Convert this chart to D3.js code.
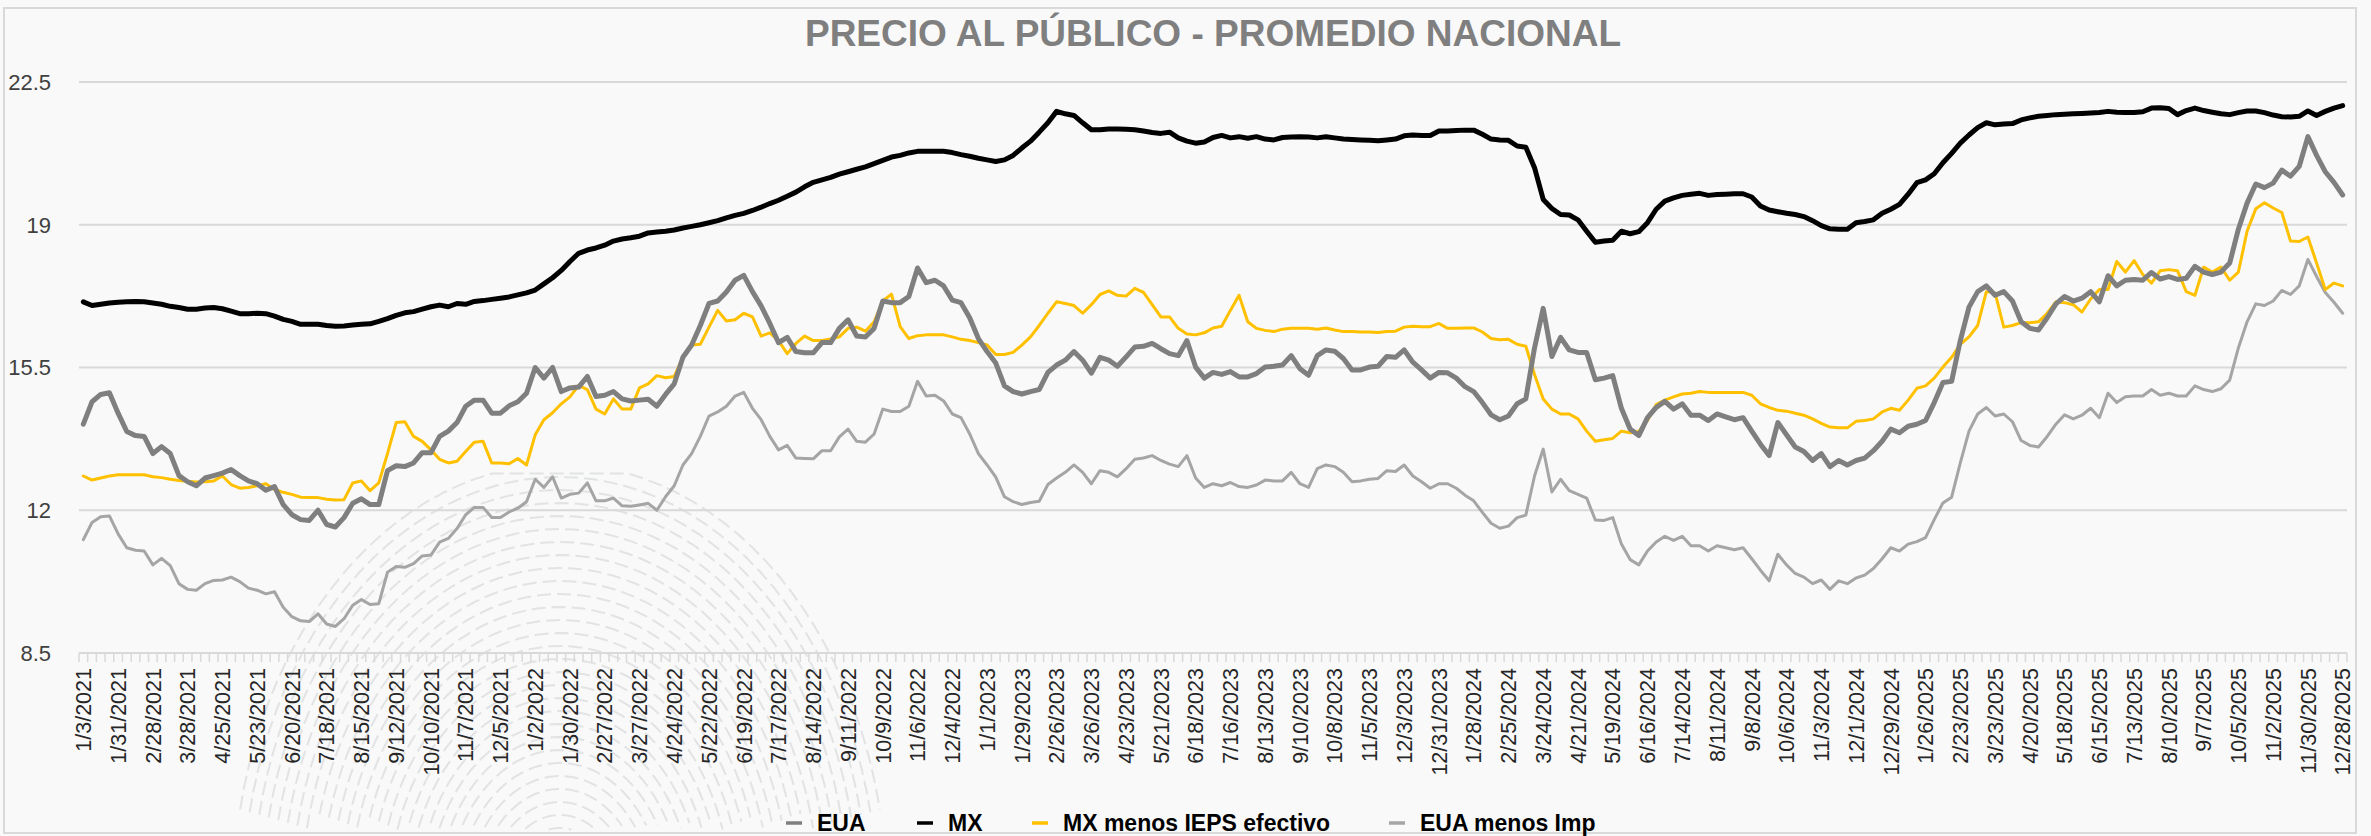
<!DOCTYPE html>
<html>
<head>
<meta charset="utf-8">
<script src="https://cdn.jsdelivr.net/npm/d3@7"></script>
<style>
  body { margin: 0; background: #f9f9f9; }
  text { font-family: "Liberation Sans", Arial, sans-serif; }
</style>
</head>
<body>
<div id="chart"></div>
<script>
// weekly series, first week 1/3/2021, last week 12/28/2025
const eua = [
  14.11, 14.66, 14.84, 14.88, 14.38, 13.93, 13.83, 13.81, 13.39, 13.56, 13.39, 12.85, 12.7, 12.6, 12.79,
  12.85, 12.91, 13.0, 12.85, 12.72, 12.65, 12.49, 12.58, 12.14, 11.89, 11.77, 11.75, 12.0, 11.65, 11.59,
  11.82, 12.17, 12.28, 12.14, 12.14, 12.97, 13.09, 13.07, 13.16, 13.41, 13.41, 13.81, 13.94, 14.15,
  14.55, 14.7, 14.7, 14.38, 14.38, 14.56, 14.66, 14.87, 15.5, 15.24, 15.5, 14.91, 15.0, 15.02, 15.28,
  14.79, 14.82, 14.91, 14.73, 14.68, 14.7, 14.72, 14.55, 14.84, 15.1, 15.75, 16.05, 16.53, 17.07, 17.13,
  17.35, 17.64, 17.76, 17.36, 17.01, 16.58, 16.11, 16.24, 15.89, 15.86, 15.86, 16.11, 16.11,
  16.46, 16.67, 16.27, 16.25, 16.46, 17.13, 17.09, 17.09, 17.24, 17.94, 17.58, 17.64, 17.5, 17.15, 17.09,
  16.72, 16.21, 15.89, 15.61, 15.05, 14.91, 14.85, 14.91, 14.96, 15.38, 15.56, 15.68, 15.89, 15.68, 15.36,
  15.75, 15.68, 15.53, 15.76, 16.0, 16.02, 16.09, 15.96, 15.84, 15.79, 16.16, 15.51, 15.24, 15.38,
  15.33, 15.4, 15.27, 15.27, 15.35, 15.51, 15.53, 15.56, 15.79, 15.47, 15.31, 15.79, 15.93, 15.9, 15.72,
  15.44, 15.44, 15.51, 15.53, 15.77, 15.75, 15.93, 15.63, 15.44, 15.24, 15.38, 15.37, 15.24, 15.03, 14.91,
  14.64, 14.34, 14.22, 14.31, 14.61, 14.73, 15.98, 16.95, 15.77, 16.24, 15.93, 15.87, 15.87, 15.2,
  15.24, 15.3, 14.5, 13.99, 13.83, 14.27, 14.52, 14.67, 14.48, 14.61, 14.33, 14.33, 14.2, 14.36, 14.29,
  14.22, 14.27, 13.94, 13.62, 13.34, 14.15, 13.85, 13.55, 13.44, 13.22, 13.39, 13.07, 13.22, 13.11, 13.22,
  13.28, 13.46, 13.69, 13.99, 13.9, 14.06, 14.11, 14.2, 14.64, 15.13, 15.16, 16.16, 16.98,
  17.36, 17.5, 17.27, 17.36, 17.13, 16.62, 16.46, 16.42, 16.72, 17.06, 17.24, 17.13, 17.2, 17.36, 17.11,
  17.75, 17.5, 17.64, 17.66, 17.64, 17.83, 17.67, 17.73, 17.66, 17.69, 17.98, 17.84, 17.78, 17.84, 18.06,
  18.89, 19.53, 20.0, 19.91, 20.02, 20.34, 20.19, 20.43, 21.16, 20.7, 20.3, 20.04, 19.73
]

const mx = [
  17.11, 17.02, 17.05, 17.08, 17.1, 17.11, 17.12, 17.11, 17.08, 17.05, 17.0, 16.97, 16.93, 16.93, 16.96,
  16.97, 16.94, 16.88, 16.82, 16.82, 16.83, 16.82, 16.76, 16.68, 16.63, 16.56, 16.56, 16.56, 16.53, 16.51,
  16.52, 16.54, 16.56, 16.57, 16.63, 16.7, 16.78, 16.84, 16.87, 16.93, 16.99, 17.03, 16.99, 17.07,
  17.05, 17.12, 17.14, 17.17, 17.2, 17.23, 17.28, 17.33, 17.4, 17.55, 17.7, 17.88, 18.1, 18.3, 18.38,
  18.43, 18.5, 18.6, 18.65, 18.68, 18.72, 18.8, 18.82, 18.84, 18.87, 18.92, 18.96, 19.0, 19.05, 19.1,
  19.17, 19.23, 19.28, 19.35, 19.43, 19.52, 19.6, 19.7, 19.8, 19.93, 20.04, 20.1, 20.16,
  20.24, 20.3, 20.36, 20.42, 20.5, 20.58, 20.66, 20.7, 20.76, 20.8, 20.8, 20.8, 20.8, 20.77, 20.72,
  20.68, 20.63, 20.59, 20.55, 20.59, 20.7, 20.88, 21.05, 21.27, 21.5, 21.78, 21.72, 21.68, 21.5, 21.33,
  21.33, 21.35, 21.35, 21.34, 21.33, 21.3, 21.26, 21.24, 21.27, 21.13, 21.05, 21.0, 21.03, 21.14,
  21.19, 21.13, 21.16, 21.12, 21.16, 21.1, 21.08, 21.14, 21.15, 21.16, 21.15, 21.13, 21.16, 21.13, 21.1,
  21.09, 21.08, 21.07, 21.06, 21.08, 21.1, 21.18, 21.2, 21.19, 21.19, 21.3, 21.3, 21.31, 21.32, 21.32,
  21.22, 21.1, 21.08, 21.07, 20.93, 20.9, 20.4, 19.62, 19.4, 19.25, 19.24, 19.12, 18.84, 18.57,
  18.6, 18.62, 18.84, 18.78, 18.83, 19.05, 19.38, 19.58, 19.66, 19.72, 19.75, 19.77, 19.72, 19.74, 19.75,
  19.76, 19.76, 19.68, 19.46, 19.36, 19.32, 19.28, 19.25, 19.2, 19.1, 18.98, 18.9, 18.89, 18.89, 19.05,
  19.08, 19.12, 19.28, 19.38, 19.5, 19.75, 20.03, 20.1, 20.25, 20.52, 20.75, 21.0, 21.2,
  21.38, 21.5, 21.45, 21.47, 21.48, 21.57, 21.62, 21.66, 21.68, 21.7, 21.71, 21.72, 21.73, 21.74, 21.75,
  21.78, 21.76, 21.75, 21.75, 21.77, 21.86, 21.87, 21.85, 21.7, 21.8, 21.86, 21.8, 21.76, 21.72, 21.7,
  21.75, 21.79, 21.79, 21.75, 21.69, 21.65, 21.64, 21.66, 21.79, 21.68, 21.78, 21.86, 21.92
]

const mxIeps = [
  12.84, 12.74, 12.79, 12.84, 12.87, 12.87, 12.87, 12.87, 12.82, 12.8, 12.76, 12.73, 12.71, 12.69, 12.7,
  12.72, 12.84, 12.63, 12.54, 12.56, 12.6, 12.65, 12.51, 12.44, 12.39, 12.32, 12.31, 12.31, 12.27, 12.25,
  12.26, 12.67, 12.72, 12.48, 12.67, 13.39, 14.15, 14.17, 13.81, 13.69, 13.48, 13.25, 13.16, 13.2,
  13.44, 13.67, 13.69, 13.16, 13.16, 13.14, 13.27, 13.11, 13.85, 14.22, 14.39, 14.61, 14.78, 15.06, 14.96,
  14.48, 14.36, 14.73, 14.48, 14.48, 15.0, 15.1, 15.3, 15.25, 15.28, 15.75, 16.05, 16.07, 16.49, 16.9,
  16.64, 16.67, 16.83, 16.74, 16.27, 16.35, 16.16, 15.84, 16.09, 16.27, 16.16, 16.16, 16.2,
  16.25, 16.46, 16.49, 16.39, 16.62, 17.13, 17.3, 16.5, 16.21, 16.28, 16.3, 16.3, 16.3, 16.25, 16.19,
  16.16, 16.11, 16.05, 15.82, 15.82, 15.87, 16.05, 16.25, 16.53, 16.83, 17.11, 17.07, 17.02, 16.83, 17.04,
  17.29, 17.38, 17.27, 17.25, 17.44, 17.34, 17.04, 16.74, 16.74, 16.46, 16.32, 16.3, 16.35, 16.47,
  16.51, 16.9, 17.27, 16.62, 16.46, 16.41, 16.38, 16.44, 16.46, 16.46, 16.46, 16.44, 16.47, 16.42, 16.38,
  16.38, 16.37, 16.37, 16.36, 16.38, 16.39, 16.49, 16.51, 16.5, 16.5, 16.58, 16.46, 16.46, 16.47, 16.47,
  16.37, 16.21, 16.18, 16.19, 16.07, 16.02, 15.33, 14.73, 14.48, 14.36, 14.36, 14.24, 13.94, 13.69,
  13.73, 13.76, 13.94, 13.9, 13.93, 14.2, 14.59, 14.7, 14.78, 14.85, 14.87, 14.91, 14.89, 14.89, 14.89,
  14.89, 14.89, 14.82, 14.61, 14.52, 14.45, 14.43, 14.38, 14.33, 14.24, 14.13, 14.04, 14.02, 14.02, 14.18,
  14.2, 14.24, 14.41, 14.5, 14.45, 14.7, 14.99, 15.05, 15.24, 15.51, 15.75, 16.07, 16.25,
  16.53, 17.36, 17.33, 16.49, 16.53, 16.6, 16.6, 16.62, 16.83, 17.11, 17.09, 17.04, 16.86, 17.18, 17.41,
  17.41, 18.1, 17.84, 18.12, 17.78, 17.57, 17.87, 17.9, 17.87, 17.36, 17.27, 17.96, 17.84, 17.96, 17.64,
  17.84, 18.84, 19.39, 19.54, 19.41, 19.3, 18.6, 18.59, 18.7, 18.06, 17.41, 17.57, 17.5
]

const euaImp = [
  11.28, 11.7, 11.84, 11.86, 11.42, 11.08, 11.02, 11.0, 10.66, 10.82, 10.64, 10.2, 10.06, 10.04, 10.2,
  10.28, 10.29, 10.36, 10.25, 10.09, 10.04, 9.95, 10.0, 9.62, 9.39, 9.29, 9.27, 9.46, 9.21, 9.15,
  9.34, 9.67, 9.81, 9.69, 9.71, 10.48, 10.62, 10.6, 10.69, 10.88, 10.9, 11.22, 11.31, 11.55,
  11.89, 12.07, 12.07, 11.82, 11.82, 11.96, 12.05, 12.21, 12.76, 12.56, 12.82, 12.3, 12.39, 12.42, 12.67,
  12.23, 12.23, 12.3, 12.11, 12.1, 12.13, 12.17, 12.0, 12.33, 12.6, 13.11, 13.39, 13.81, 14.31, 14.41,
  14.55, 14.8, 14.89, 14.5, 14.22, 13.81, 13.48, 13.59, 13.28, 13.27, 13.26, 13.46, 13.46,
  13.8, 13.99, 13.69, 13.67, 13.87, 14.48, 14.42, 14.42, 14.55, 15.16, 14.8, 14.82, 14.68, 14.36, 14.27,
  13.87, 13.39, 13.11, 12.81, 12.33, 12.21, 12.14, 12.19, 12.22, 12.63, 12.79, 12.93, 13.11, 12.93, 12.65,
  12.97, 12.93, 12.82, 13.02, 13.25, 13.28, 13.34, 13.22, 13.13, 13.07, 13.34, 12.79, 12.56, 12.65,
  12.6, 12.68, 12.58, 12.56, 12.62, 12.74, 12.72, 12.72, 12.93, 12.65, 12.56, 13.02, 13.11, 13.07, 12.93,
  12.7, 12.72, 12.76, 12.78, 12.97, 12.95, 13.11, 12.84, 12.7, 12.54, 12.65, 12.65, 12.54, 12.37, 12.23,
  11.95, 11.68, 11.56, 11.61, 11.82, 11.88, 12.84, 13.5, 12.45, 12.76, 12.48, 12.39, 12.3, 11.76,
  11.75, 11.82, 11.17, 10.79, 10.66, 11.0, 11.22, 11.36, 11.26, 11.36, 11.13, 11.13, 11.0, 11.13, 11.08,
  11.03, 11.08, 10.81, 10.53, 10.27, 10.92, 10.66, 10.45, 10.36, 10.2, 10.29, 10.06, 10.27, 10.2, 10.34,
  10.41, 10.57, 10.81, 11.08, 11.0, 11.17, 11.23, 11.33, 11.77, 12.18, 12.32, 13.16, 13.94,
  14.36, 14.52, 14.31, 14.36, 14.17, 13.71, 13.59, 13.55, 13.81, 14.11, 14.34, 14.24, 14.33, 14.5, 14.27,
  14.87, 14.64, 14.78, 14.8, 14.8, 14.96, 14.82, 14.87, 14.8, 14.8, 15.05, 14.96, 14.91, 14.98, 15.19,
  15.98, 16.62, 17.06, 17.02, 17.13, 17.39, 17.29, 17.5, 18.15, 17.73, 17.34, 17.1, 16.83
]

const yTicks = [8.5, 12, 15.5, 19, 22.5]

// weekly categories (Sundays)
const weeks = d3.timeWeek.range(new Date(2021, 0, 3), new Date(2025, 11, 29))
const fmt = d3.timeFormat('%-m/%-d/%Y')
const labels = weeks.map(fmt)

const series = [
  { name: 'EUA menos Imp', values: euaImp, color: '#a5a5a5', width: 3 },
  { name: 'MX menos IEPS efectivo', values: mxIeps, color: '#ffc000', width: 3 },
  { name: 'EUA', values: eua, color: '#7f7f7f', width: 5 },
  { name: 'MX', values: mx, color: '#000000', width: 5 }
]
const legendOrder = ['EUA', 'MX', 'MX menos IEPS efectivo', 'EUA menos Imp']

const W = 2371, H = 836
const plot = { left: 79, right: 2347, top: 82, bottom: 653 }

const svg = d3.select('#chart').append('svg')
  .attr('width', W)
  .attr('height', H)

svg.append('rect')
  .attr('x', 4).attr('y', 8)
  .attr('width', 2352).attr('height', 825)
  .attr('fill', '#f9f9f9')
  .attr('stroke', '#d9d9d9')
  .attr('stroke-width', 2)

// faint fingerprint-like background decoration, bottom left
const rings = d3.range(20, 440, 13)
const deco = svg.append('g')
deco.selectAll('path')
  .data(rings)
  .enter().append('path')
  .attr('fill', 'none')
  .attr('stroke', '#c4c8ca')
  .attr('stroke-opacity', 0.45)
  .attr('stroke-width', 2)
  .attr('stroke-dasharray', '14 6')
  .attr('d', d => {
    // upper half of an ellipse, cut at the bottom border
    const cx = 560, cy = 900, rx = d * 0.75, ry = d
    const pts = d3.range(0, 181, 3).map(a => {
      const t = a * Math.PI / 180
      return [cx - rx * Math.cos(t), Math.min(830, cy - ry * Math.sin(t))]
    }).filter(p => p[1] < 830 && p[1] > 470)
    return pts.length > 1 ? d3.line()(pts) : null
  })

const x = d3.scalePoint()
  .domain(labels)
  .range([plot.left, plot.right])
  .padding(0.5)

const y = d3.scaleLinear()
  .domain([8.5, 22.5])
  .range([plot.bottom, plot.top])

// gridlines
svg.append('g')
  .selectAll('line')
  .data(yTicks)
  .enter().append('line')
  .attr('x1', plot.left).attr('x2', plot.right)
  .attr('y1', d => y(d)).attr('y2', d => y(d))
  .attr('stroke', '#d9d9d9')
  .attr('stroke-width', 2)

// y labels
svg.append('g')
  .selectAll('text')
  .data(yTicks)
  .enter().append('text')
  .attr('x', 51)
  .attr('y', d => y(d))
  .attr('dy', '0.36em')
  .attr('text-anchor', 'end')
  .style('font-size', '22px')
  .style('fill', '#404040')
  .text(d => d)

// category tick marks between weeks
const step = x.step()
const bounds = labels.map(d => x(d) - step / 2).concat([x(labels[labels.length - 1]) + step / 2])
svg.append('g')
  .selectAll('line')
  .data(bounds)
  .enter().append('line')
  .attr('x1', d => d).attr('x2', d => d)
  .attr('y1', plot.bottom).attr('y2', plot.bottom + 9)
  .attr('stroke', '#d9d9d9')
  .attr('stroke-width', 1.5)

// x labels, every 4 weeks
svg.append('g')
  .selectAll('text')
  .data(labels.filter((d, i) => i % 4 === 0))
  .enter().append('text')
  .attr('transform', d => `translate(${x(d)}, 668) rotate(-90)`)
  .attr('dy', '0.36em')
  .attr('text-anchor', 'end')
  .style('font-size', '21.5px')
  .style('fill', '#262626')
  .text(d => d)

// lines
const line = d3.line()
  .x((d, i) => x(labels[i]))
  .y(d => y(d))

svg.append('g')
  .selectAll('path')
  .data(series)
  .enter().append('path')
  .attr('d', d => line(d.values))
  .attr('fill', 'none')
  .attr('stroke', d => d.color)
  .attr('stroke-width', d => d.width)
  .attr('stroke-linejoin', 'round')
  .attr('stroke-linecap', 'round')

// title
svg.append('text')
  .attr('x', 1213)
  .attr('y', 46)
  .attr('text-anchor', 'middle')
  .style('font-size', '37px')
  .style('font-weight', 'bold')
  .style('fill', '#7f7f7f')
  .text('PRECIO AL PÚBLICO - PROMEDIO NACIONAL')

// legend
const legendX = [786, 917, 1032, 1389]
const legend = svg.append('g')
  .selectAll('g')
  .data(legendOrder.map(n => series.find(s => s.name === n)))
  .enter().append('g')
  .attr('transform', (d, i) => `translate(${legendX[i]}, 823)`)
legend.append('line')
  .attr('x1', 0).attr('x2', 16)
  .attr('stroke', d => d.color)
  .attr('stroke-width', 3.5)
legend.append('text')
  .attr('x', 31)
  .attr('y', 8)
  .style('font-size', '23px')
  .style('font-weight', 'bold')
  .style('fill', '#000')
  .text(d => d.name)
</script>
</body>
</html>
